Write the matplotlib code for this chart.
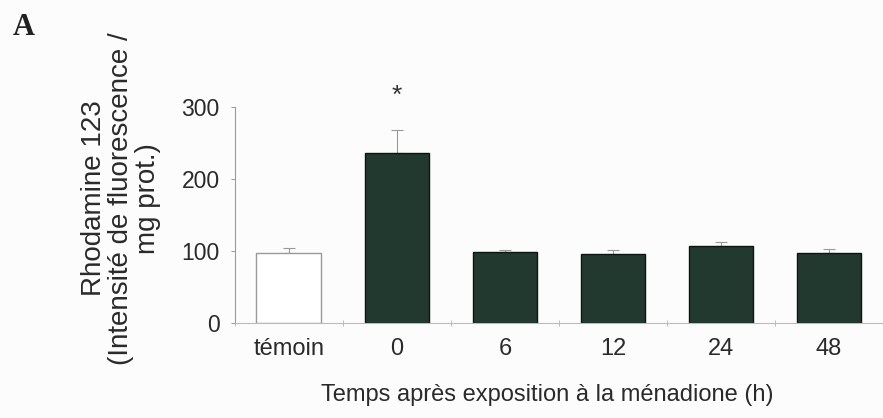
import matplotlib.pyplot as plt
import numpy as np

plt.rcParams['font.family'] = ['Liberation Sans', 'DejaVu Sans']

# data
categories = ['témoin', '0', '6', '12', '24', '48']
values = [97, 236, 99, 96, 107, 97]
errors = [7, 32, 2, 6, 5, 6]
significant = [False, True, False, False, False, False]

fig = plt.figure(figsize=(8.83, 4.18), dpi=100)
fig.patch.set_facecolor('#fcfcfc')
ax = fig.add_axes([0.266, 0.227, 0.734, 0.517])
ax.set_facecolor('#fcfcfc')

x = np.arange(len(categories))
face = ['white'] + ['#22392f'] * (len(categories) - 1)
edge = ['#9a9a9a'] + ['#0d1510'] * (len(categories) - 1)
ax.bar(x, values, width=0.6, color=face, edgecolor=edge, linewidth=1.0, zorder=2)
ax.errorbar(x, values, yerr=[np.zeros(len(errors)), errors], fmt='none',
            ecolor='#9a9a9a', elinewidth=0.8, capsize=4, capthick=0.8, zorder=1)

for xi, v, e, s in zip(x, values, errors, significant):
    if s:
        ax.text(xi, 315, '*', ha='center', va='center', fontsize=19, color='#333333')

ax.set_ylim(0, 300)
ax.set_xlim(-0.5, 5.37)
ax.set_yticks([0, 100, 200, 300])
ax.tick_params(axis='y', length=3, width=0.7, color='#9a9a9a', labelsize=16.5,
               labelcolor='#2a2a2a', pad=8)
ax.set_xticks(x)
ax.set_xticklabels(categories)
ax.tick_params(axis='x', length=0, labelsize=17, labelcolor='#2a2a2a', pad=11)
ax.set_xticks(np.arange(-0.5, len(categories), 1), minor=True)
ax.tick_params(axis='x', which='minor', length=5, direction='inout', width=0.7, color='#bbbbbb')

for side in ['top', 'right']:
    ax.spines[side].set_visible(False)
ax.spines['left'].set_color('#9a9a9a')
ax.spines['left'].set_linewidth(0.8)
ax.spines['bottom'].set_color('#bbbbbb')
ax.spines['bottom'].set_linewidth(0.8)
ax.set_clip_on(False)

fig.text(0.137, 0.525, 'Rhodamine 123\n(Intensité de fluorescence /\nmg prot.)', rotation=90,
         ha='center', va='center', fontsize=20, color='#2a2a2a', linespacing=1.05)
fig.text(0.62, 0.055, 'Temps après exposition à la ménadione (h)', ha='center', va='center',
         fontsize=17, color='#2a2a2a')
fig.text(0.027, 0.935, 'A', ha='center', va='center', fontsize=22, fontweight='bold',
         family='Liberation Serif', color='#222222')

fig.savefig('out.png', dpi=100, facecolor=fig.get_facecolor())
